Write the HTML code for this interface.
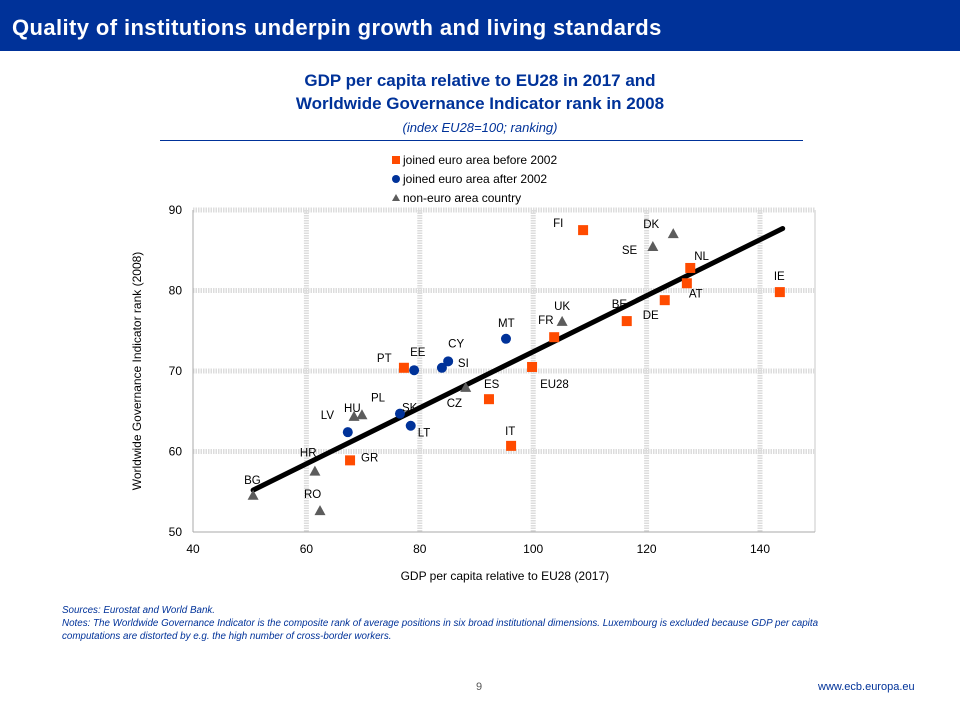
<!DOCTYPE html>
<html><head><meta charset="utf-8"><style>
body{margin:0;width:960px;height:720px;background:#fff;font-family:"Liberation Sans",sans-serif;overflow:hidden;position:relative}
#hdr{position:absolute;left:0;top:0;width:960px;height:51px;background:#003299;color:#fff;font-weight:bold;font-size:22px;letter-spacing:0.4px;line-height:55px;padding-left:12px;box-sizing:border-box}
.t{position:absolute;width:960px;text-align:center;color:#003299;font-weight:bold;font-size:17px;line-height:23px}
.notes{position:absolute;left:62px;top:604px;width:790px;color:#003299;font-style:italic;font-size:9.8px;line-height:13px}
</style></head><body>
<div id="hdr">Quality of institutions underpin growth and living standards</div>
<div class="t" style="top:69px">GDP per capita relative to EU28 in 2017 and<br>Worldwide Governance Indicator rank in 2008</div>
<div class="t" style="top:116px;font-weight:normal;font-style:italic;font-size:13px">(index EU28=100; ranking)</div>
<div style="position:absolute;left:160px;top:140px;width:643px;height:1px;background:#003299"></div>
<svg id="ch" width="960" height="720" style="position:absolute;left:0;top:0"></svg>
<div class="notes">Sources: Eurostat and World Bank.<br>Notes: The Worldwide Governance Indicator is the composite rank of average positions in six broad institutional dimensions. Luxembourg is excluded because GDP per capita computations are distorted by e.g. the high number of cross-border workers.</div>
<div style="position:absolute;left:476px;top:681px;font-size:11px;color:#555">9</div>
<div style="position:absolute;left:818px;top:681px;font-size:11px;color:#003299">www.ecb.europa.eu</div>
<script>
const countries=["FI","DK","SE","NL","AT","IE","DE","BE","UK","FR","MT","EU28","CY","SI","EE","PT","CZ","ES","PL","HU","SK","LT","LV","IT","HR","GR","BG","RO"];
const gdp=[108.8,124.7,121.1,127.7,127.1,143.5,123.2,116.5,105.1,103.7,95.2,99.8,85.0,83.9,79.0,77.2,88.1,92.2,69.8,68.4,76.5,78.4,67.3,96.1,61.5,67.7,50.6,62.4];
const wgi=[87.5,87.0,85.4,82.8,80.9,79.8,78.8,76.2,76.1,74.2,74.0,70.5,71.2,70.4,70.1,70.4,67.9,66.5,64.5,64.3,64.7,63.2,62.4,60.7,57.5,58.9,54.5,52.6];
const group=["a","n","n","a","a","a","a","a","n","a","b","a","b","b","b","a","n","a","n","n","b","b","b","a","n","a","n","n"];
const xTicks=[40,60,80,100,120,140];
const yTicks=[50,60,70,80,90];
const trendX=[50.6,144];
const trendY=[55.2,87.7];
const lblOff={FI:[-30,-7],DK:[-30,-10],SE:[-31,3],NL:[4,-12],AT:[2,10],IE:[-6,-16],DE:[-22,15],BE:[-15,-17],UK:[-8,-16],FR:[-16,-17],MT:[-8,-16],EU28:[8,17],CY:[0,-18],SI:[16,-5],EE:[-4,-18],PT:[-27,-10],CZ:[-19,15],ES:[-5,-15],PL:[9,-18],HU:[-10,-9],SK:[2,-6],LT:[7,7],LV:[-27,-17],IT:[-6,-15],HR:[-15,-19],GR:[11,-3],BG:[-9,-16],RO:[-16,-17]};
const svg=document.getElementById('ch');const NS='http://www.w3.org/2000/svg';
const X0=193,X1=815,Y0=532,Y1=210,xmin=40,xmax=149.7,ymin=50,ymax=90;
const sx=v=>X0+(v-xmin)*(X1-X0)/(xmax-xmin);
const sy=v=>Y0-(v-ymin)*(Y0-Y1)/(ymax-ymin);
function mk(t,a,p){const e=document.createElementNS(NS,t);for(const k in a)e.setAttribute(k,a[k]);(p||svg).appendChild(e);return e;}
xTicks.forEach(v=>{if(v===40)return;const g=mk('line',{x1:sx(v),x2:sx(v),y1:Y1,y2:Y0,stroke:'#dcdcdc','stroke-width':5,'stroke-dasharray':'1.5,1'});

});
mk('line',{x1:X1,x2:X1,y1:Y1,y2:Y0,stroke:'#e4e4e4','stroke-width':2});
yTicks.forEach(v=>{if(v===50)return;const g=mk('line',{x1:X0,x2:X1,y1:sy(v),y2:sy(v),stroke:'#dcdcdc','stroke-width':5,'stroke-dasharray':'1.5,1'});

});
mk('line',{x1:X0,x2:X1,y1:Y0,y2:Y0,stroke:'#aaa','stroke-width':1});
mk('line',{x1:X0,x2:X0,y1:Y1,y2:Y0,stroke:'#aaa','stroke-width':1});
xTicks.forEach(v=>{const t=mk('text',{x:sx(v),y:553,'font-size':12,'text-anchor':'middle',fill:'#000'});t.textContent=v;

});
yTicks.forEach(v=>{const t=mk('text',{x:182,y:sy(v)+4,'font-size':12,'text-anchor':'end',fill:'#000'});t.textContent=v;

});
let t=mk('text',{x:sx(95),y:580,'font-size':12,'text-anchor':'middle'});t.textContent='GDP per capita relative to EU28 (2017)';


t=mk('text',{x:0,y:0,'font-size':12,'text-anchor':'middle',transform:`translate(141,${(Y0+Y1)/2}) rotate(-90)`});t.textContent='Worldwide Governance Indicator rank (2008)';


const tl=mk('line',{x1:sx(trendX[0]),y1:sy(trendY[0]),x2:sx(trendX[1]),y2:sy(trendY[1]),stroke:'#000','stroke-width':5,'stroke-linecap':'round'});


function marker(g,x,y){if(g==='a')return mk('rect',{x:x-5,y:y-5,width:10,height:10,fill:'#ff4b00'});
if(g==='b')return mk('circle',{cx:x,cy:y,r:5,fill:'#003299'});
return mk('polygon',{points:`${x},${y-6} ${x+5.5},${y+4} ${x-5.5},${y+4}`,fill:'#5c5c5c'});}
countries.forEach((c,i)=>{const x=sx(gdp[i]),y=sy(wgi[i]);const m=marker(group[i],x,y);


const o=lblOff[c];const l=mk('text',{x:x+o[0],y:y+o[1]+4,'font-size':11.5,fill:'#000'});l.textContent=c;

});
const leg=[['a','joined euro area before 2002'],['b','joined euro area after 2002'],['n','non-euro area country']];
leg.forEach((d,i)=>{const y=160+i*19;let m;
if(d[0]==='a')m=mk('rect',{x:392,y:y-4,width:8,height:8,fill:'#ff4b00'});
else if(d[0]==='b')m=mk('circle',{cx:396,cy:y,r:4,fill:'#003299'});
else m=mk('polygon',{points:`396,${y-4} 400,${y+3} 392,${y+3}`,fill:'#5c5c5c'});


const lt=mk('text',{x:403,y:y+4,'font-size':12});lt.textContent=d[1];

});
</script>
</body></html>
